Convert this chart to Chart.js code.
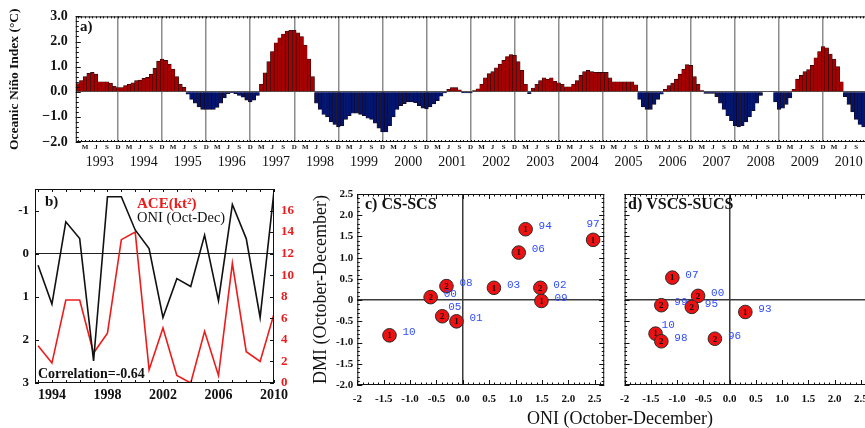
<!DOCTYPE html>
<html>
<head>
<meta charset="utf-8">
<script src="https://cdn.jsdelivr.net/npm/chart.js@4.4.1/dist/chart.umd.min.js"></script>
<style>
  html, body { margin: 0; padding: 0; background: #fff; overflow: hidden; width: 865px; height: 428px; }
  canvas { position: absolute; }
  #oniTitle { position: absolute; left: 527px; top: 408px; font: 18px 'Liberation Serif', serif; line-height: 20px; color: #111; white-space: nowrap; }
</style>
</head>
<body>
<canvas id="panelA" width="872" height="172" style="left:0;top:0"></canvas>
<canvas id="panelB" width="315" height="256" style="left:0;top:172px"></canvas>
<canvas id="panelC" width="312" height="256" style="left:300px;top:172px"></canvas>
<canvas id="panelD" width="270" height="256" style="left:612px;top:172px"></canvas>
<div id="oniTitle">ONI (October-December)</div>
<script>
// ---- panel a: monthly Oceanic Nino Index ----
const aYears = [1993, 1994, 1995, 1996, 1997, 1998, 1999, 2000, 2001,
    2002, 2003, 2004, 2005, 2006, 2007, 2008, 2009, 2010];
const monthNames = ['Jan', 'Feb', 'Mar', 'Apr', 'May', 'Jun', 'Jul', 'Aug', 'Sep', 'Oct', 'Nov', 'Dec'];
const monthTicks = ['', '', 'M', '', '', 'J', '', '', 'S', '', '', 'D'];
const aYTicks = [-2, -1, 0, 1, 2, 3];
const oniMonthly = [
    0.33, 0.45, 0.6, 0.73, 0.77, 0.7, 0.4, 0.4, 0.4, 0.35, 0.22, 0.17,          // 1993
    0.17, 0.25, 0.3, 0.36, 0.45, 0.46, 0.53, 0.57, 0.7, 0.93, 1.22, 1.3,        // 1994
    1.25, 1.1, 0.9, 0.6, 0.3, 0.18, -0.1, -0.3, -0.45, -0.6, -0.7, -0.7,        // 1995
    -0.7, -0.7, -0.62, -0.45, -0.25, -0.08, -0.04, -0.08, -0.15, -0.22, -0.33, -0.4, // 1996
    -0.33, -0.15, 0.3, 0.75, 1.2, 1.6, 1.95, 2.15, 2.3, 2.42, 2.45, 2.45,       // 1997
    2.35, 2.2, 1.85, 1.3, 0.6, -0.45, -0.7, -0.9, -1.0, -1.2, -1.3, -1.4,       // 1998
    -1.35, -1.1, -0.95, -0.85, -0.85, -0.9, -0.95, -1.05, -1.1, -1.25, -1.45, -1.6, // 1999
    -1.6, -1.35, -1.0, -0.7, -0.55, -0.47, -0.4, -0.4, -0.43, -0.55, -0.65, -0.68, // 2000
    -0.6, -0.48, -0.35, -0.18, -0.05, 0.1, 0.17, 0.17, 0.08, -0.05, -0.05, -0.05, // 2001
    0.05, 0.12, 0.3, 0.55, 0.72, 0.8, 0.95, 1.1, 1.25, 1.4, 1.48, 1.45,         // 2002
    1.2, 0.85, 0.3, -0.08, 0.15, 0.3, 0.45, 0.55, 0.5, 0.55, 0.42, 0.36,        // 2003
    0.3, 0.2, 0.2, 0.3, 0.45, 0.65, 0.8, 0.85, 0.8, 0.77, 0.77, 0.77,           // 2004
    0.77, 0.55, 0.4, 0.4, 0.4, 0.4, 0.4, 0.4, 0.28, -0.3, -0.6, -0.7,           // 2005
    -0.7, -0.5, -0.3, -0.1, 0.1, 0.25, 0.35, 0.5, 0.7, 0.9, 1.08, 1.05,        // 2006
    0.6, 0.3, 0.05, -0.07, -0.07, -0.07, -0.2, -0.45, -0.7, -0.95, -1.15, -1.35, // 2007
    -1.4, -1.35, -1.2, -1.0, -0.75, -0.45, -0.15, 0, 0, 0, -0.4, -0.7,          // 2008
    -0.65, -0.5, -0.25, 0.1, 0.5, 0.65, 0.8, 0.88, 1.05, 1.35, 1.6, 1.8,        // 2009
    1.75, 1.5, 1.3, 1.0, 0.4, -0.2, -0.5, -0.8, -1.1, -1.3, -1.4, -1.4          // 2010
];

// ---- panel b: Oct-Dec ONI against ACE ----
const bYears = [1993, 1994, 1995, 1996, 1997, 1998, 1999, 2000, 2001,
    2002, 2003, 2004, 2005, 2006, 2007, 2008, 2009, 2010];
const oniOND = [0.27, 1.17, -0.74, -0.35, 2.49, -1.32, -1.32, -0.55, -0.12,
    1.48, 0.58, 0.76, -0.43, 1.09, -1.14, -0.35, 1.48, -1.45];
const aceValues = [3.45, 1.85, 7.7, 7.7, 2.78, 4.63, 13.3, 14.0, 1.23,
    5.1, 0.7, 0, 4.8, 0.7, 11.1, 2.9, 2.0, 6.4];
const bTickYears = [1994, 1998, 2002, 2006, 2010];
const bOniTicks = [-1, 0, 1, 2, 3];
const bAceTicks = [0, 2, 4, 6, 8, 10, 12, 14, 16];

// ---- panels c, d: ONI vs DMI ----
const cLabels = ['94', '97', '06', '08', '03', '02', '00', '09', '05', '01', '10'];
const cOni = [1.19, 2.47, 1.06, -0.31, 0.59, 1.47, -0.61, 1.49, -0.39, -0.12, -1.39];
const cDmi = [1.67, 1.42, 1.12, 0.33, 0.29, 0.29, 0.07, -0.02, -0.38, -0.5, -0.83];
const cCount = [1, 1, 1, 2, 1, 2, 2, 1, 2, 1, 1];
const cPlace = ['r', 'u', 'r', 'r', 'r', 'r', 'r', 'r', 'ur', 'r', 'r'];

const dLabels = ['07', '00', '99', '95', '93', '10', '98', '96'];
const dOni = [-1.09, -0.6, -1.3, -0.72, 0.3, -1.41, -1.3, -0.28];
const dDmi = [0.53, 0.1, -0.12, -0.16, -0.28, -0.79, -0.97, -0.91];
const dCount = [1, 2, 2, 2, 1, 1, 2, 2];
const dPlace = ['r', 'r', 'r', 'r', 'r', 'ur', 'r', 'r'];

const scatterXTicks = [-2, -1.5, -1, -0.5, 0, 0.5, 1, 1.5, 2, 2.5];
const scatterYTicks = [-2, -1.5, -1, -0.5, 0, 0.5, 1, 1.5, 2, 2.5];

const SERIF = "'Liberation Serif', 'Times New Roman', serif";
const INK = '#111';
const RED_BAR = '#a80000';
const BLUE_BAR = '#001470';
const ACE_RED = '#ec1c1c';
const YEAR_BLUE = '#2f4cff';

const steps = (from, to, step) => {
    const out = [];
    for (let v = from; v <= to + 1e-9; v += step) out.push(Math.round(v * 1000) / 1000);
    return out;
};

// box round the plot area with inward tick marks
const framePlugin = {
    id: 'frame',
    afterDatasetsDraw(chart, args, opts) {
        const { ctx, chartArea: { left, top, right, bottom } } = chart;
        ctx.save();
        ctx.strokeStyle = INK;
        ctx.lineWidth = 1;
        ctx.strokeRect(left + 0.5, top + 0.5, right - left - 1, bottom - top - 1);
        for (const t of (opts.ticks || [])) {
            const scale = chart.scales[t.scale];
            for (const v of t.values) {
                const p = Math.round(scale.getPixelForValue(v)) + 0.5;
                ctx.beginPath();
                for (const side of t.sides) {
                    if (side === 'top') { ctx.moveTo(p, top); ctx.lineTo(p, top + t.len); }
                    if (side === 'bottom') { ctx.moveTo(p, bottom); ctx.lineTo(p, bottom - t.len); }
                    if (side === 'left') { ctx.moveTo(left, p); ctx.lineTo(left + t.len, p); }
                    if (side === 'right') { ctx.moveTo(right, p); ctx.lineTo(right - t.len, p); }
                }
                ctx.stroke();
            }
        }
        ctx.restore();
    }
};

// free text in the panels (titles, legend words)
const textPlugin = {
    id: 'panelText',
    afterDatasetsDraw(chart, args, opts) {
        const { ctx } = chart;
        ctx.save();
        ctx.textBaseline = 'middle';
        for (const item of (opts.items || [])) {
            ctx.font = item.font;
            ctx.fillStyle = item.color || INK;
            ctx.textAlign = item.align || 'left';
            ctx.fillText(item.text, item.x, item.y);
        }
        ctx.restore();
    }
};

// storm count inside each dot, year beside it
const pointLabelPlugin = {
    id: 'pointLabels',
    afterDatasetsDraw(chart, args, opts) {
        if (!opts.years) return;
        const { ctx } = chart;
        const meta = chart.getDatasetMeta(0);
        ctx.save();
        ctx.textBaseline = 'middle';
        meta.data.forEach((pt, i) => {
            ctx.font = 'bold 9px ' + SERIF;
            ctx.fillStyle = INK;
            ctx.textAlign = 'center';
            ctx.fillText(String(opts.counts[i]), pt.x, pt.y + 0.5);

            ctx.font = "11px 'Liberation Mono', 'DejaVu Sans Mono', monospace";
            ctx.fillStyle = YEAR_BLUE;
            const place = opts.places[i];
            if (place === 'u') {
                ctx.textAlign = 'center';
                ctx.fillText(opts.years[i], pt.x, pt.y - 16);
            } else if (place === 'ur') {
                ctx.textAlign = 'left';
                ctx.fillText(opts.years[i], pt.x + 6, pt.y - 9);
            } else {
                ctx.textAlign = 'left';
                ctx.fillText(opts.years[i], pt.x + 13, pt.y - 3);
            }
        });
        ctx.restore();
    }
};

Chart.register(framePlugin, textPlugin, pointLabelPlugin);
Chart.defaults.font.family = SERIF;
Chart.defaults.color = INK;

const baseOptions = {
    responsive: false,
    animation: false,
    devicePixelRatio: 1,
};

// ---------- panel a ----------
const monthLabels = aYears.flatMap(y => monthNames.map(m => `${m} ${y}`));

new Chart(document.getElementById('panelA'), {
    type: 'bar',
    data: {
        labels: monthLabels,
        datasets: [{
            data: oniMonthly,
            backgroundColor: oniMonthly.map(v => v >= 0 ? RED_BAR : BLUE_BAR),
            borderColor: '#1c0606',
            borderWidth: 0.6,
            barPercentage: 1,
            categoryPercentage: 1
        }]
    },
    options: {
        ...baseOptions,
        layout: { padding: { top: 16, right: 3, left: 0, bottom: 0 } },
        plugins: {
            legend: { display: false },
            tooltip: { enabled: false },
            frame: {
                ticks: [
                    { scale: 'x', sides: ['top', 'bottom'], values: monthLabels.map((_, i) => i), len: 2 },
                    { scale: 'y', sides: ['left'], values: steps(-2, 3, 0.2), len: 3 },
                    { scale: 'y', sides: ['left'], values: aYTicks, len: 5 }
                ]
            },
            panelText: {
                items: [{ text: 'a)', x: 80, y: 27, font: 'bold 15px ' + SERIF }]
            }
        },
        scales: {
            x: {
                offset: true,
                weight: 0,
                grid: {
                    offset: false,
                    drawTicks: false,
                    lineWidth: 1.5,
                    color: c => c.index % 12 === 11 ? '#8c8c8c' : 'transparent'
                },
                border: { display: false },
                ticks: {
                    autoSkip: false,
                    maxRotation: 0,
                    padding: 1,
                    font: { size: 7, weight: 'bold' },
                    callback: (v, i) => monthTicks[i % 12]
                },
                afterFit: s => { s.height = 12; }
            },
            x2: {
                type: 'category',
                position: 'bottom',
                offset: true,
                weight: 1,
                grid: { display: false, drawTicks: false },
                border: { display: false },
                ticks: {
                    autoSkip: false,
                    maxRotation: 0,
                    padding: 0,
                    font: { size: 14 },
                    callback: (v, i) => i % 12 === 6 ? String(aYears[Math.floor(i / 12)]) : ''
                },
                afterFit: s => { s.height = 18; }
            },
            y: {
                min: -2,
                max: 3,
                afterBuildTicks: s => { s.ticks = aYTicks.map(v => ({ value: v })); },
                grid: {
                    drawTicks: false,
                    color: c => c.tick && c.tick.value === 0 ? '#555' : 'transparent'
                },
                border: { display: false },
                ticks: {
                    padding: 8,
                    font: { size: 14, weight: 'bold' },
                    callback: v => (v < 0 ? '\u2212' : '') + Math.abs(v).toFixed(1)
                },
                title: {
                    display: true,
                    text: 'Oceanic Niño Index (°C)',
                    font: { size: 13.5, weight: 'bold' },
                    padding: { top: 6.6, bottom: 0 }
                },
                afterFit: s => { s.width = 75.8; }
            }
        }
    }
});

// ---------- panel b ----------
new Chart(document.getElementById('panelB'), {
    type: 'line',
    data: {
        datasets: [
            {
                label: 'ONI (Oct-Dec)',
                data: bYears.map((y, i) => ({ x: y, y: oniOND[i] })),
                borderColor: INK,
                borderWidth: 1.6,
                pointRadius: 0,
                yAxisID: 'y'
            },
            {
                label: 'ACE(kt²)',
                data: bYears.map((y, i) => ({ x: y, y: aceValues[i] })),
                borderColor: ACE_RED,
                borderWidth: 1.6,
                pointRadius: 0,
                yAxisID: 'y2'
            }
        ]
    },
    options: {
        ...baseOptions,
        layout: { padding: { top: 17, right: 0, left: 0, bottom: 0 } },
        plugins: {
            legend: { display: false },
            tooltip: { enabled: false },
            frame: {
                ticks: [
                    { scale: 'x', sides: ['bottom', 'top'], values: bYears, len: 3 },
                    { scale: 'y', sides: ['left'], values: bOniTicks, len: 4 },
                    { scale: 'y2', sides: ['right'], values: bAceTicks, len: 4 }
                ]
            },
            panelText: {
                items: [
                    { text: 'b)', x: 45, y: 30, font: 'bold 15px ' + SERIF },
                    { text: 'ACE(kt²)', x: 137, y: 32, font: 'bold 15px ' + SERIF, color: ACE_RED },
                    { text: 'ONI (Oct-Dec)', x: 137, y: 46, font: '14.5px ' + SERIF },
                    { text: 'Correlation=-0.64', x: 38, y: 202, font: 'bold 14px ' + SERIF }
                ]
            }
        },
        scales: {
            x: {
                type: 'linear',
                min: 1992.78,
                max: 2010,
                afterBuildTicks: s => { s.ticks = bTickYears.map(v => ({ value: v })); },
                grid: { display: false, drawTicks: false },
                border: { display: false },
                ticks: {
                    padding: 4,
                    maxRotation: 0,
                    font: { size: 14, weight: 'bold' },
                    callback: v => String(v)
                },
                afterFit: s => { s.height = 45; }
            },
            y: {
                reverse: true,
                min: -1.5,
                max: 3,
                afterBuildTicks: s => { s.ticks = bOniTicks.map(v => ({ value: v })); },
                grid: {
                    drawTicks: false,
                    color: c => c.tick && c.tick.value === 0 ? '#222' : 'transparent'
                },
                border: { display: false },
                ticks: {
                    padding: 6,
                    font: { size: 13, weight: 'bold' },
                    callback: v => String(v)
                },
                afterFit: s => { s.width = 35; }
            },
            y2: {
                position: 'right',
                min: 0,
                max: 18,
                afterBuildTicks: s => { s.ticks = bAceTicks.map(v => ({ value: v })); },
                grid: { display: false, drawTicks: false },
                border: { display: false },
                ticks: {
                    padding: 7,
                    color: ACE_RED,
                    font: { size: 13, weight: 'bold' },
                    callback: v => String(v)
                },
                afterFit: s => { s.width = 41; }
            }
        }
    }
});

// ---------- panels c and d ----------
function scatterPanel(canvasId, cfg) {
    return new Chart(document.getElementById(canvasId), {
        type: 'scatter',
        data: {
            datasets: [{
                data: cfg.oni.map((x, i) => ({ x, y: cfg.dmi[i] })),
                pointRadius: 6.8,
                pointBackgroundColor: '#ee1111',
                pointBorderColor: '#2a2a2a',
                pointBorderWidth: 1
            }]
        },
        options: {
            ...baseOptions,
            layout: { padding: cfg.padding },
            plugins: {
                legend: { display: false },
                tooltip: { enabled: false },
                frame: {
                    ticks: [
                        { scale: 'x', sides: ['top', 'bottom'], values: steps(-2, 2.6, 0.1), len: 2.5 },
                        { scale: 'x', sides: ['top', 'bottom'], values: scatterXTicks, len: 5 },
                        { scale: 'y', sides: ['left', 'right'], values: steps(-2, 2.5, 0.1), len: 2.5 },
                        { scale: 'y', sides: ['left', 'right'], values: scatterYTicks, len: 5 }
                    ]
                },
                panelText: { items: [cfg.title] },
                pointLabels: { years: cfg.labels, counts: cfg.counts, places: cfg.places }
            },
            scales: {
                x: {
                    type: 'linear',
                    min: -2,
                    max: 2.68,
                    afterBuildTicks: s => { s.ticks = scatterXTicks.map(v => ({ value: v })); },
                    grid: {
                        drawTicks: false,
                        lineWidth: 1.5,
                        color: c => c.tick && c.tick.value === 0 ? '#3a3a3a' : 'transparent'
                    },
                    border: { display: false },
                    ticks: {
                        padding: 8,
                        maxRotation: 0,
                        font: { size: 11, weight: 'bold' },
                        callback: v => v === -2 ? '-2' : v.toFixed(1)
                    },
                    afterFit: s => { s.height = 43; }
                },
                y: {
                    min: -2,
                    max: 2.5,
                    afterBuildTicks: s => { s.ticks = scatterYTicks.map(v => ({ value: v })); },
                    grid: {
                        drawTicks: false,
                        lineWidth: 1.5,
                        color: c => c.tick && c.tick.value === 0 ? '#3a3a3a' : 'transparent'
                    },
                    border: { display: false },
                    ticks: {
                        display: cfg.yLabels,
                        padding: 4,
                        font: { size: 11, weight: 'bold' },
                        callback: v => v === 0 ? '0' : v.toFixed(1)
                    },
                    title: {
                        display: cfg.yLabels,
                        text: 'DMI (October-December)',
                        font: { size: 18 },
                        padding: { top: 10.2, bottom: 0 }
                    },
                    afterFit: s => { s.width = cfg.yWidth; }
                }
            }
        }
    });
}

scatterPanel('panelC', {
    oni: cOni, dmi: cDmi, labels: cLabels, counts: cCount, places: cPlace,
    yLabels: true,
    yWidth: 57.3,
    padding: { top: 22, right: 5.3, left: 0, bottom: 0 },
    title: { text: 'c) CS-SCS', x: 65, y: 33, font: 'bold 16px ' + SERIF }
});

scatterPanel('panelD', {
    oni: dOni, dmi: dDmi, labels: dLabels, counts: dCount, places: dPlace,
    yLabels: false,
    yWidth: 9,
    padding: { top: 22, right: 11.7, left: 0, bottom: 0 },
    title: { text: 'd) VSCS-SUCS', x: 16, y: 33, font: 'bold 16px ' + SERIF }
});
</script>
</body>
</html>
